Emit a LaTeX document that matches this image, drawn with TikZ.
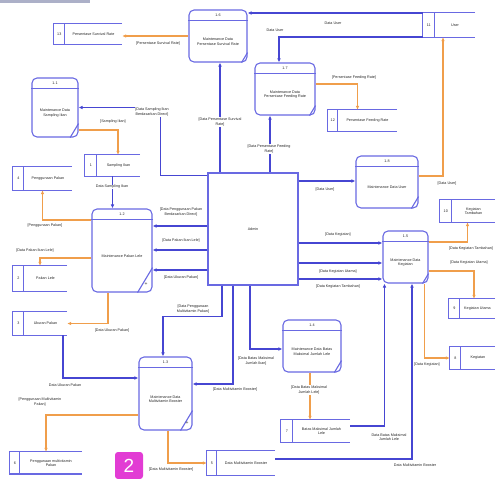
\documentclass[tikz,border=0pt]{standalone}
\usepackage{fontspec}
\setmainfont{Liberation Sans}
\usetikzlibrary{arrows.meta,calc}

\definecolor{dfdblue}{RGB}{70,70,210}
\definecolor{boxblue}{RGB}{105,105,226}
\definecolor{dfdorange}{RGB}{240,158,75}
\definecolor{bargray}{RGB}{172,176,200}
\definecolor{badgepink}{RGB}{226,60,212}

\tikzset{
  dfdtext/.style={font=\fontsize{3.7}{4.4}\selectfont, align=center, inner sep=0.6pt, text=black!85},
  flowlabel/.style={dfdtext, fill=white},
  procbox/.style={draw=boxblue, line width=1.1pt, rounded corners=5pt},
  procline/.style={draw=boxblue, line width=1.1pt},
  storebox/.style={inner sep=0pt},
  storeline/.style={draw=boxblue, line width=1.1pt},
  flowblue/.style={draw=dfdblue, line width=1.1pt, -{Latex[length=4pt,width=3.6pt]}},
  floworange/.style={draw=dfdorange, line width=1.1pt, -{Latex[length=4pt,width=3.6pt]}},
}

% process: name, cx, cy, w, h, id, text, corner
\newcommand{\dfdproc}[8]{%
  \node[procbox, minimum width=#4pt, minimum height=#5pt] (#1) at (#2,#3) {};
  \draw[procline] ([yshift=-11pt]#1.north west) -- ([yshift=-11pt]#1.north east);
  \node[dfdtext] (#1-id) at ([yshift=-5.5pt]#1.north) {#6};
  \node[dfdtext] (#1-txt) at ([yshift=-5.5pt]#1.center) {#7};
  \draw[procline] ([xshift=-#8*0.6pt]#1.south east) -- ([yshift=#8pt]#1.south east);
}
% data store: name, cx, cy, w, h, id width, id, text
\newcommand{\dfdstore}[8]{%
  \node[storebox, minimum width=#4pt, minimum height=#5pt] (#1) at (#2,#3) {};
  \draw[storeline] (#1.north east) -- (#1.north west) -- (#1.south west) -- (#1.south east)
    ([xshift=#6pt]#1.north west) -- ([xshift=#6pt]#1.south west);
  \node[dfdtext] (#1-id) at ([xshift=#6*0.5pt]#1.west) {#7};
  \node[dfdtext] (#1-txt) at ([xshift=#6*0.5pt]#1.center) {#8};
}

\begin{document}
\begin{tikzpicture}[x=1pt,y=-1pt]
  %%%%% START %%%%%
  \useasboundingbox (0,0) rectangle (499,479);
  \fill[bargray] (0,0) rectangle (90,3);

  \node[draw=boxblue, line width=1.1pt, minimum width=90pt, minimum height=112pt, dfdtext] (adm) at (253,229) {Admin};

  \dfdproc{p16}{218}{36}{58}{52}{1.6}{Maintenance Data\\Persentase Survival Rate}{10}
  \dfdproc{p11}{55}{107.5}{46}{59}{1.1}{Maintenance Data\\Sampling Ikan}{14}
  \dfdproc{p17}{285}{89}{60}{52}{1.7}{Maintenance Data\\Persentase Feeding Rate}{10}
  \dfdproc{p18}{387}{182}{62}{52}{1.8}{Maintenance Data User}{12}
  \dfdproc{p12}{122}{250.5}{60}{83}{1.2}{Maintenance Pakan Lele}{25}
  \node[dfdtext, font=\fontsize{5}{5}\selectfont] (p12-plus) at (146,284) {+};
  \dfdproc{p15}{405.5}{257}{45}{52}{1.5}{Maintenance Data\\Kegiatan}{10}
  \dfdproc{p14}{312}{346}{58}{52}{1.4}{Maintenance Data Batas\\Maksimal Jumlah Lele}{12}
  \dfdproc{p13}{165.5}{393.5}{53}{73}{1.3}{Maintenance Data\\Multivitamin Booster}{20}
  \node[dfdtext, font=\fontsize{5}{5}\selectfont] (p13-plus) at (187,423) {+};

  \dfdstore{s13}{88}{34}{68}{20}{11}{13}{Persentase Survival Rate}
  \dfdstore{s11}{449}{25}{52}{24}{12}{11}{User}
  \dfdstore{s12}{362.5}{120.5}{69}{21}{10}{12}{Persentase Feeding Rate}
  \dfdstore{s1}{112.5}{165.5}{55}{21}{12}{1}{Sampling Ikan}
  \dfdstore{s4}{42.5}{178.5}{59}{23}{11}{4}{Penggunaan Pakan}
  \dfdstore{s2}{40}{278.5}{54}{25}{11}{2}{Pakan Lele}
  \dfdstore{s3}{40}{323.5}{54}{23}{11}{3}{Ukuran Pakan}
  \dfdstore{s10}{467.5}{211}{55}{22}{12}{10}{Kegiatan\\Tambahan}
  \dfdstore{s9}{472}{308.5}{46}{19}{11}{9}{Kegiatan Utama}
  \dfdstore{s8}{472.5}{358}{45}{22}{11}{8}{Kegiatan}
  \dfdstore{s7}{315.5}{431}{69}{22}{12}{7}{Batas Maksimal Jumlah\\Lele}
  \dfdstore{s5}{241}{463}{68}{24}{10}{5}{Data Multivitamin Booster}
  \dfdstore{s6}{46}{463}{72}{22}{10}{6}{Penggunaan multivitamin\\Pakan}
  \draw[storeline, line width=1.8pt] (s6.south west) -- (s6.south east);

  % admin to processes
  \draw[flowblue] ([xshift=-33pt]adm.north) -- ([xshift=-33pt]adm.north |- p16.south);
  \node[flowlabel] (l1) at (220,122) {[Data Persentase Survival\\Rate]};
  \draw[flowblue] ([xshift=17pt]adm.north) -- ([xshift=17pt]adm.north |- p17.south);
  \node[flowlabel] (l2) at (269,149) {[Data Persentase Feeding\\Rate]};
  \draw[flowblue] ([yshift=-3pt]adm.north west) -| ($(p11.east)+(82,0)$) -- (p11.east);
  \node[flowlabel] (l3) at (152,112) {[Data Sampling Ikan\\Berdasarkan Direct]};

  \draw[flowblue] ([yshift=3pt]adm.west) -- ([yshift=3pt]adm.west -| p12.east);
  \draw[flowblue] ([yshift=-21pt]adm.west) -- ([yshift=-21pt]adm.west -| p12.east);
  \draw[flowblue] ([yshift=-41pt]adm.west) -- ([yshift=-41pt]adm.west -| p12.east);
  \node[dfdtext] (l4) at (181,212) {[Data Penggunaan Pakan\\Berdasarkan Direct]};
  \node[dfdtext] (l5) at (181,241) {[Data Pakan Ikan Lele]};
  \node[dfdtext] (l6) at (181,278) {[Data Ukuran Pakan]};

  \draw[flowblue] ([xshift=-31pt]adm.south) -- ++(0,31) -| ([xshift=-2.5pt]p13.north);
  \node[flowlabel] (l7) at (193,309) {[Data Penggunaan\\Multivitamin Pakan]};
  \draw[flowblue] ([xshift=-20pt]adm.south) |- ([yshift=9.5pt]p13.east);
  \node[dfdtext] (l8) at (235,390) {[Data Multivitamin Booster]};
  \draw[flowblue] ([xshift=-3pt]adm.south) |- ([yshift=-3pt]p14.west);
  \node[dfdtext] (l9) at (256,361) {[Data Batas Maksimal\\Jumlah Ikan]};

  \draw[flowblue] ([yshift=48pt]adm.east) -- ([yshift=48pt]adm.east -| p18.west);
  \node[dfdtext] (l10) at (325,190) {[Data User]};
  \draw[flowblue] ([yshift=-14pt]adm.east) -- ([yshift=-14pt]adm.east -| p15.west);
  \draw[flowblue] ([yshift=-34pt]adm.east) -- ([yshift=-34pt]adm.east -| p15.west);
  \draw[flowblue] ([yshift=-50pt]adm.east) -- ([yshift=-50pt]adm.east -| p15.west);
  \node[dfdtext] (l11) at (338,235) {[Data Kegiatan]};
  \node[dfdtext] (l12) at (338,272) {[Data Kegiatan Utama]};
  \node[dfdtext] (l13) at (338,287) {[Data Kegiatan Tambahan]};

  % stores to processes
  \draw[flowblue] ([yshift=12pt]s11.west) -- ([yshift=12pt]s11.west -| p16.east);
  \node[dfdtext] (l14) at (333,23) {Data User};
  \draw[flowblue] ([yshift=-12pt]s11.west) -| ([xshift=-6pt]p17.north);
  \node[dfdtext] (l15) at (275,30) {Data User};
  \draw[flowblue] (s1.south) -- (s1.south |- p12.north);
  \node[flowlabel] (l16) at (112,187) {Data Sampling Ikan};
  \draw[flowblue] ([xshift=23pt]s3.south) |- ([yshift=15.5pt]p13.west);
  \node[dfdtext] (l17) at (65,385) {Data Ukuran Pakan};
  \draw[flowblue] ([yshift=5pt]s7.east) -| ([xshift=-21pt]p15.south);
  \node[dfdtext] (l18) at (389,437) {Data Batas Maksimal\\Jumlah Lele};
  \draw[flowblue] ([yshift=4pt]s5.east) -| ([xshift=6.5pt]p15.south);
  \node[dfdtext] (l19) at (415,465) {Data Multivitamin Booster};

  % processes to stores
  \draw[floworange] (p16.west) -- (p16.west -| s13.east);
  \node[dfdtext] (l20) at (158,44) {[Persentase Survival Rate]};
  \draw[floworange] ([yshift=5pt]p17.east) -| ([xshift=-5pt]s12.north);
  \node[dfdtext] (l21) at (354,78) {[Persentase Feeding Rate]};
  \draw[floworange] ([yshift=-22.5pt]p11.east) -| ([xshift=5.5pt]s1.north);
  \node[dfdtext] (l22) at (113,122) {[Sampling Ikan]};
  \draw[floworange] ([yshift=30.5pt]p12.west) -| (s4.south);
  \node[dfdtext] (l23) at (45,226) {[Penggunaan Pakan]};
  \draw[floworange] ([yshift=-7.5pt]p12.west) -| (s2.north);
  \node[dfdtext] (l24) at (35,251) {[Data Pakan Ikan Lele]};
  \draw[floworange] ([xshift=-14pt]p12.south) |- (s3.east);
  \node[dfdtext] (l25) at (112,331) {[Data Ukuran Pakan]};
  \draw[floworange] ([yshift=-21.5pt]p13.west) -| (s6.north);
  \node[dfdtext] (l26) at (40,402) {[Penggunaan Multivitamin\\Pakan]};
  \draw[floworange] ([xshift=2.5pt]p13.south) |- (s5.west);
  \node[dfdtext] (l27) at (171,470) {[Data Multivitamin Booster]};
  \draw[floworange] ([xshift=-2pt]p14.south) -- ([xshift=-2pt]p14.south |- s7.north);
  \node[flowlabel] (l28) at (309,390) {[Data Batas Maksimal\\Jumlah Lele]};
  \draw[floworange] ([yshift=6pt]p18.east) -| ([xshift=-6pt]s11.south);
  \node[dfdtext] (l29) at (447,184) {[Data User]};
  \draw[floworange] ([yshift=15pt]p15.east) -| (s10.south);
  \node[dfdtext] (l30) at (471,249) {[Data Kegiatan Tambahan]};
  \draw[floworange] ([yshift=-14pt]p15.east) -| ([xshift=2pt]s9.north);
  \node[dfdtext] (l31) at (469,263) {[Data Kegiatan Utama]};
  \draw[floworange] ([xshift=19pt]p15.south) |- (s8.west);
  \node[dfdtext] (l32) at (427,365) {[Data Kegiatan]};

  \node[fill=badgepink, rounded corners=3pt, minimum width=28pt, minimum height=27pt, inner sep=0pt,
        text=white, font=\fontsize{19}{19}\selectfont] (badge) at (129,465.5) {2};
  %%%%% END %%%%%
\end{tikzpicture}
\end{document}
